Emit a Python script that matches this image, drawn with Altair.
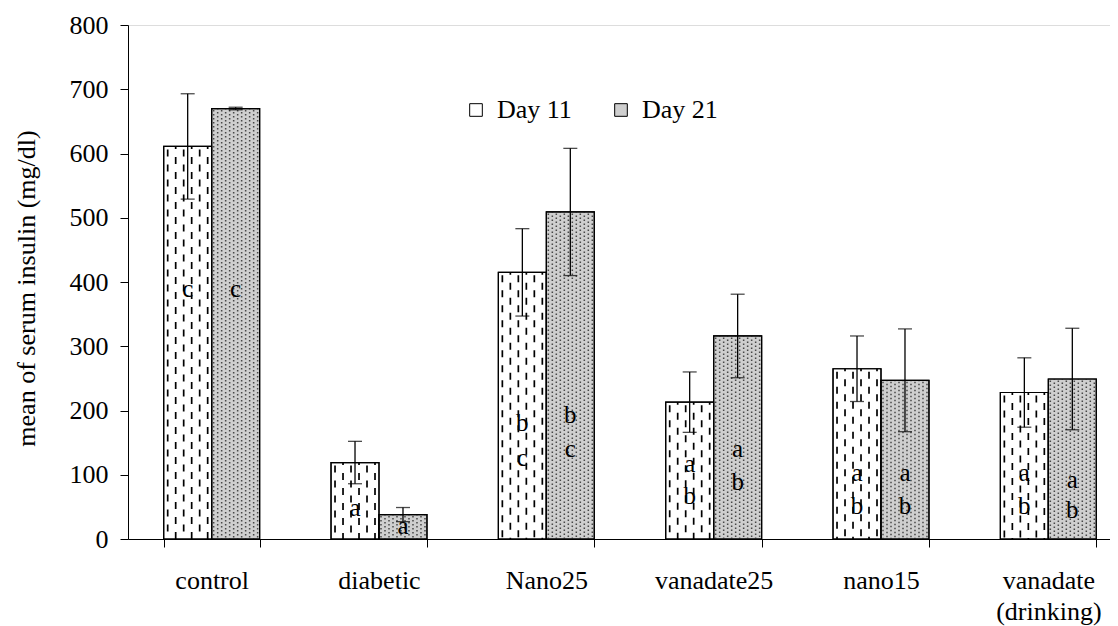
import altair as alt
import pandas as pd

FONT = "Liberation Serif"

categories = ["control", "diabetic", "Nano25", "vanadate25", "nano15", "vanadate (drinking)"]
series = ["Day 11", "Day 21"]
day11 = [611, 119, 415, 213, 265, 228]
day21 = [670, 38, 509, 316, 247, 249]
err11 = [82, 33, 68, 47, 51, 54]
err21 = [2, 11, 99, 65, 80, 79]

letter_cat = ["control", "control", "diabetic", "diabetic",
              "Nano25", "Nano25", "Nano25", "Nano25",
              "vanadate25", "vanadate25", "vanadate25", "vanadate25",
              "nano15", "nano15", "nano15", "nano15",
              "vanadate (drinking)", "vanadate (drinking)", "vanadate (drinking)", "vanadate (drinking)"]
letter_series = ["Day 11", "Day 21", "Day 11", "Day 21",
                 "Day 11", "Day 11", "Day 21", "Day 21",
                 "Day 11", "Day 11", "Day 21", "Day 21",
                 "Day 11", "Day 11", "Day 21", "Day 21",
                 "Day 11", "Day 11", "Day 21", "Day 21"]
letter_text = ["c", "c", "a", "a",
               "b", "c", "b", "c",
               "a", "b", "a", "b",
               "a", "b", "a", "b",
               "a", "b", "a", "b"]
letter_pos = [389, 389, 48, 20,
              180, 126, 193, 140,
              117, 67, 140, 89,
              103, 51, 103, 51,
              103, 51, 92, 45]

rows = []
for i, c in enumerate(categories):
    rows.append(dict(category=c, series="Day 11", value=day11[i],
                     lo=day11[i] - err11[i], hi=day11[i] + err11[i]))
    rows.append(dict(category=c, series="Day 21", value=day21[i],
                     lo=day21[i] - err21[i], hi=day21[i] + err21[i]))
bars_df = pd.DataFrame(rows)

letters_df = pd.DataFrame(dict(category=letter_cat, series=letter_series,
                               letter=letter_text, pos=letter_pos))

# texture helper tables: dashed fill of Day 11 bars, dotted fill of Day 21 bars
dash_df = pd.DataFrame([dict(category=c, col=k, value=day11[i])
                        for i, c in enumerate(categories) for k in range(6)])
dot_df = pd.DataFrame([dict(category=c, col=k, value=day21[i])
                       for i, c in enumerate(categories) for k in range(12, 24)])

x_enc = alt.X(
    "category:N", sort=categories,
    scale=alt.Scale(range=[0, 1004], paddingInner=0.4266, paddingOuter=0.2133),
    axis=alt.Axis(title=None, labelAngle=0, tickBand="extent", tickSize=8,
                  labelPadding=20, labelFont=FONT, labelFontSize=26,
                  labelColor="black", domainColor="black", tickColor="black",
                  labelLineHeight=31,
                  labelExpr="datum.value == 'vanadate (drinking)' ? ['vanadate', '(drinking)'] : datum.value"),
)
x_plain = alt.X("category:N", sort=categories)


def xoff(field, n=None):
    if n is None:
        return alt.XOffset(field, sort=series,
                           scale=alt.Scale(type="band", domain=series,
                                           paddingInner=0, paddingOuter=0))
    return alt.XOffset(field, scale=alt.Scale(type="band", domain=list(range(n)),
                                              paddingInner=0, paddingOuter=0))


y_scale = alt.Scale(domain=[0, 800], nice=False)
y_axis = alt.Axis(values=list(range(0, 801, 100)), grid=False, tickSize=8,
                  labelPadding=12, labelFont=FONT, labelFontSize=26,
                  labelColor="black", domainColor="black", tickColor="black",
                  title="mean of serum insulin (mg/dl)", titleFont=FONT,
                  titleFontSize=26, titleFontWeight="normal", titleColor="black",
                  titleX=-102, titleY=263, titleAngle=270,
                  titleAlign="center", titleBaseline="middle")

base = alt.Chart(bars_df)

bars = base.mark_bar(stroke="black", strokeWidth=1.2).encode(
    x=x_enc, xOffset=xoff("series:N"),
    y=alt.Y("value:Q", scale=y_scale, axis=y_axis),
    fill=alt.Fill("series:N", sort=series,
                  scale=alt.Scale(domain=series, range=["white", "#cfcfcf"]),
                  legend=alt.Legend(title=None, orient="none", direction="horizontal",
                                    legendX=335, legendY=72, symbolType="square",
                                    symbolSize=160, symbolStrokeColor="black",
                                    symbolStrokeWidth=1, labelFont=FONT,
                                    labelFontSize=26, labelColor="black",
                                    columnPadding=36, labelOffset=8, padding=0)),
)


def dash_layer(parity, offset):
    return alt.Chart(dash_df).transform_filter(f"datum.col % 2 == {parity}").mark_rule(
        stroke="black", strokeWidth=1.7, strokeDash=[7, 8], strokeDashOffset=offset
    ).encode(x=x_plain, xOffset=xoff("col:O", 12),
             y=alt.Y("value:Q", scale=y_scale), y2=alt.datum(0))


def dot_layer(parity, offset):
    return alt.Chart(dot_df).transform_filter(f"datum.col % 2 == {parity}").mark_rule(
        stroke="#474747", strokeWidth=1.5, strokeDash=[1.5, 2.5], strokeDashOffset=offset
    ).encode(x=x_plain, xOffset=xoff("col:O", 24),
             y=alt.Y("value:Q", scale=y_scale), y2=alt.datum(0))


dash_even = dash_layer(0, -3)
dash_odd = dash_layer(1, -10.5)
dot_even = dot_layer(0, -1.5)
dot_odd = dot_layer(1, -3.5)

outline = base.mark_bar(stroke="black", strokeWidth=1.2, fillOpacity=0).encode(
    x=x_plain, xOffset=xoff("series:N"), y=alt.Y("value:Q", scale=y_scale))

err_rule = base.mark_rule(stroke="black", strokeWidth=1.3).encode(
    x=x_plain, xOffset=xoff("series:N"),
    y=alt.Y("lo:Q", scale=y_scale), y2="hi:Q")
cap_hi = base.mark_tick(color="black", thickness=1.3, size=14).encode(
    x=x_plain, xOffset=xoff("series:N"), y=alt.Y("hi:Q", scale=y_scale))
cap_lo = base.mark_tick(color="black", thickness=1.3, size=14).encode(
    x=x_plain, xOffset=xoff("series:N"), y=alt.Y("lo:Q", scale=y_scale))

letters = alt.Chart(letters_df).mark_text(
    font=FONT, fontSize=25, color="black", baseline="middle", align="center"
).encode(x=x_plain, xOffset=xoff("series:N"),
         y=alt.Y("pos:Q", scale=y_scale), text="letter:N")

chart = alt.layer(
    bars, dash_even, dash_odd, dot_even, dot_odd, outline, letters, err_rule, cap_lo, cap_hi
).resolve_scale(
    xOffset="independent"
).properties(
    width=982, height=514,
    autosize=alt.AutoSizeParams(type="none"),
    padding={"left": 120, "top": 17, "right": 0, "bottom": 87},
).configure_view(stroke=None).configure(background="white")

chart.save("out.html", embed_options={"renderer": "svg", "actions": False})
